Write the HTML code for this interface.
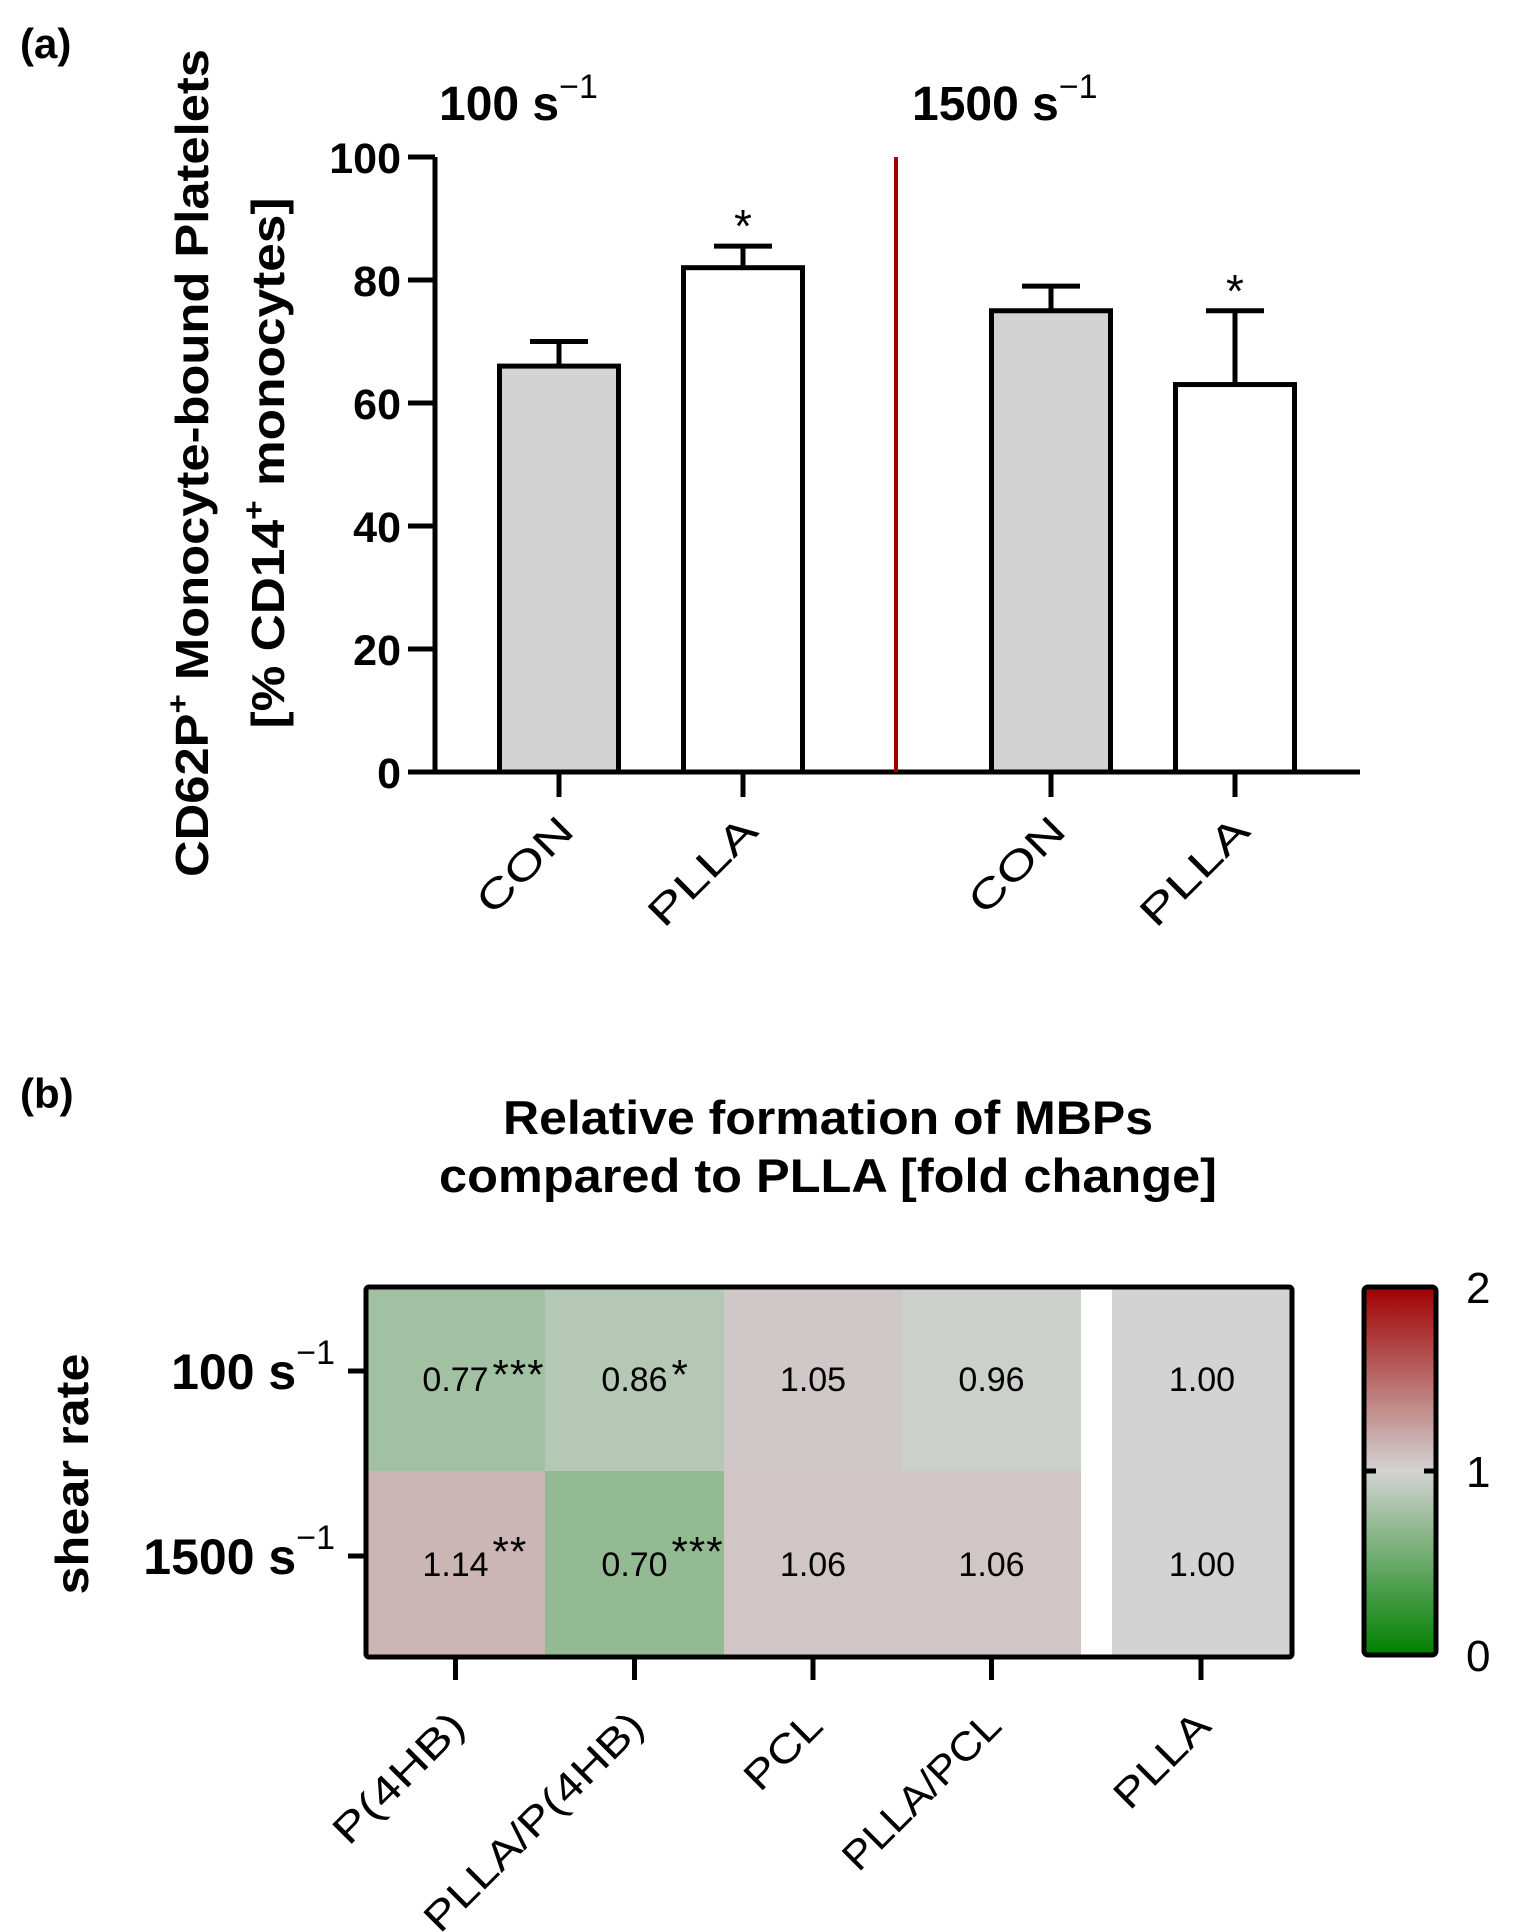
<!DOCTYPE html>
<html><head><meta charset="utf-8"><style>
html,body{margin:0;padding:0;background:#fff}
svg{display:block;font-family:"Liberation Sans",Arial,sans-serif}
</style></head><body>
<svg id="fig" width="1514" height="1932" viewBox="0 0 1514 1932" xmlns="http://www.w3.org/2000/svg">
<text x="20" y="58" font-size="42" font-weight="bold">(a)</text>
<text x="20" y="1108" font-size="42" font-weight="bold">(b)</text>
<text x="439" y="120" font-size="48" font-weight="bold">100 s<tspan font-weight="normal" font-size="34" dy="-22">−1</tspan></text>
<text x="912" y="120" font-size="48" font-weight="bold">1500 s<tspan font-weight="normal" font-size="34" dy="-22">−1</tspan></text>
<g font-weight="bold" font-size="46">
<text transform="translate(208,463) rotate(-90)" text-anchor="middle" textLength="828" lengthAdjust="spacingAndGlyphs">CD62P<tspan font-size="30" dy="-20">+</tspan><tspan dy="20"> Monocyte-bound Platelets</tspan></text>
<text transform="translate(284,463) rotate(-90)" text-anchor="middle" textLength="531" lengthAdjust="spacingAndGlyphs">[% CD14<tspan font-size="30" dy="-20">+</tspan><tspan dy="20"> monocytes]</tspan></text>
</g>
<g id="barchart"></g>
<text x="828" y="1134" font-size="47" font-weight="bold" text-anchor="middle" textLength="650" lengthAdjust="spacingAndGlyphs">Relative formation of MBPs</text>
<text x="828" y="1192" font-size="47" font-weight="bold" text-anchor="middle" textLength="778" lengthAdjust="spacingAndGlyphs">compared to PLLA [fold change]</text>
<text transform="translate(88,1474) rotate(-90)" text-anchor="middle" font-size="46" font-weight="bold" textLength="241" lengthAdjust="spacingAndGlyphs">shear rate</text>
<g id="heatmap"></g>
<defs><linearGradient id="cbg" x1="0" y1="1" x2="0" y2="0">
<stop offset="0" stop-color="#008000"/><stop offset="0.5" stop-color="#d3d3d3"/><stop offset="1" stop-color="#a00000"/></linearGradient></defs>
<g>
<rect x="1364" y="1287" width="72" height="368" rx="4" fill="url(#cbg)" stroke="#000" stroke-width="5"/>
<line x1="1366" y1="1471" x2="1376" y2="1471" stroke="#000" stroke-width="5"/>
<line x1="1424" y1="1471" x2="1434" y2="1471" stroke="#000" stroke-width="5"/>
<text x="1466" y="1303" font-size="44">2</text>
<text x="1466" y="1487" font-size="44">1</text>
<text x="1466" y="1671" font-size="44">0</text>
</g>
</svg>
<script>
const NS='http://www.w3.org/2000/svg';
// ---- bar chart data ----
const barCats=['CON','PLLA','CON','PLLA'];
const barVals=[66,82,75,63];
const barErr=[70,85.5,79,75];
const barStars=['','*','','*'];
const yTicks=[0,20,40,60,80,100];
// ---- heatmap data ----
const hmCols=['P(4HB)','PLLA/P(4HB)','PCL','PLLA/PCL','PLLA'];
const hmRows=['100','1500'];
const hmRow1=[0.77,0.86,1.05,0.96,1.00];
const hmRow2=[1.14,0.70,1.06,1.06,1.00];
const hmStars1=['***','*','','',''];
const hmStars2=['**','***','','',''];

function mk(tag,attrs,parent){const e=document.createElementNS(NS,tag);for(const k in attrs)e.setAttribute(k,attrs[k]);parent.appendChild(e);return e;}
const bc=document.getElementById('barchart');
const X0=435,Y0=772,YT=157;
const ys=v=>Y0-(v/100)*(Y0-YT);
const barCenters=[559,743,1051,1235];
const bw=119;
yTicks.forEach(t=>{
  const l=mk('line',{x1:408,x2:435,y1:ys(t),y2:ys(t),stroke:'#000','stroke-width':5},bc);
  
  
  const tx=mk('text',{x:401,y:ys(t)+16,'text-anchor':'end','font-size':43,'font-weight':'bold'},bc);
  tx.textContent=t;
  
  
});
barVals.forEach((v,i)=>{
  const cx=barCenters[i];
  const el=mk('line',{x1:cx,x2:cx,y1:ys(barErr[i]),y2:ys(v),stroke:'#000','stroke-width':5},bc);
  
  
  const cap=mk('line',{x1:cx-29,x2:cx+29,y1:ys(barErr[i]),y2:ys(barErr[i]),stroke:'#000','stroke-width':5},bc);
  
  
  const r=mk('rect',{x:cx-bw/2,y:ys(v),width:bw,height:Y0-ys(v),fill:i%2===0?'#d3d3d3':'#fff',stroke:'#000','stroke-width':5},bc);
  
  
  const tk=mk('line',{x1:cx,x2:cx,y1:Y0,y2:797,stroke:'#000','stroke-width':5},bc);
  
  
  const lb=mk('text',{transform:`translate(${cx+17},833) rotate(-45)`,'text-anchor':'end','font-size':40,textLength:barCats[i]==='CON'?118:136,lengthAdjust:'spacingAndGlyphs'},bc);
  lb.textContent=barCats[i];
  
  
  if(barStars[i]){
    const s=mk('text',{x:cx,y:ys(barErr[i])-4,'text-anchor':'middle','font-size':46},bc);
    s.textContent=barStars[i];
    
    
  }
});
const ax=mk('path',{d:`M${X0},${YT} V${Y0} M408,${Y0} H1360`,stroke:'#000','stroke-width':5,fill:'none'},bc);


const red=mk('line',{x1:896,x2:896,y1:157,y2:772,stroke:'#a00000','stroke-width':4},bc);



const hm=document.getElementById('heatmap');
const colX=[366,545,724,902,1112];
const colW=[179,179,178,179,180];
const rowY=[1287,1471],rowH=[184,186];
function color(v){
  const mid=[211,211,211],lo=[0,128,0],hi=[160,0,0];
  const t=Math.abs(v-1),e=v<1?lo:hi;
  return 'rgb('+mid.map((m,k)=>Math.round(m*(1-t)+e[k]*t)).join(',')+')';
}
[hmRow1,hmRow2].forEach((row,ri)=>{
  const stars=ri===0?hmStars1:hmStars2;
  row.forEach((v,ci)=>{
    const r=mk('rect',{x:colX[ci],y:rowY[ri],width:colW[ci],height:rowH[ri],fill:color(v)},hm);
    
    
    const cx=colX[ci]+colW[ci]/2,cy=rowY[ri]+rowH[ri]/2;
    const t=mk('text',{x:cx,y:cy+12,'text-anchor':'middle','font-size':34},hm);
    t.textContent=v.toFixed(2);
    
    
    if(stars[ci]){
      const s=mk('text',{x:cx+37,y:ri===0?cy+10:cy+2,'font-size':42,'letter-spacing':'1'},hm);
      s.textContent=stars[ci];
      
      
    }
  });
});
const gap=mk('rect',{x:1081,y:1287,width:31,height:370,fill:'#fff'},hm);


const border=mk('rect',{x:366,y:1287,width:926,height:370,fill:'none',stroke:'#000','stroke-width':5,rx:3},hm);


hmRows.forEach((r,ri)=>{
  const cy=rowY[ri]+rowH[ri]/2-13;
  const tk=mk('line',{x1:348,x2:366,y1:cy+5,y2:cy+5,stroke:'#000','stroke-width':5},hm);
  
  
  const t=mk('text',{x:335,y:cy+23,'text-anchor':'end','font-size':50,'font-weight':'bold'},hm);
  t.innerHTML=r+' s<tspan font-weight="normal" font-size="34" dy="-25">−1</tspan>';
  
  
});
const labLen=[168,292,92,205,118];
hmCols.forEach((c,ci)=>{
  const cx=ci===4?1201:colX[ci]+colW[ci]/2;
  const tk=mk('line',{x1:cx,x2:cx,y1:1657,y2:1680,stroke:'#000','stroke-width':5},hm);
  
  
  const t=mk('text',{transform:`translate(${cx+12},1728) rotate(-45)`,'text-anchor':'end','font-size':40,textLength:labLen[ci],lengthAdjust:'spacingAndGlyphs'},hm);
  t.textContent=c;
  
  
});
</script>
</body></html>
